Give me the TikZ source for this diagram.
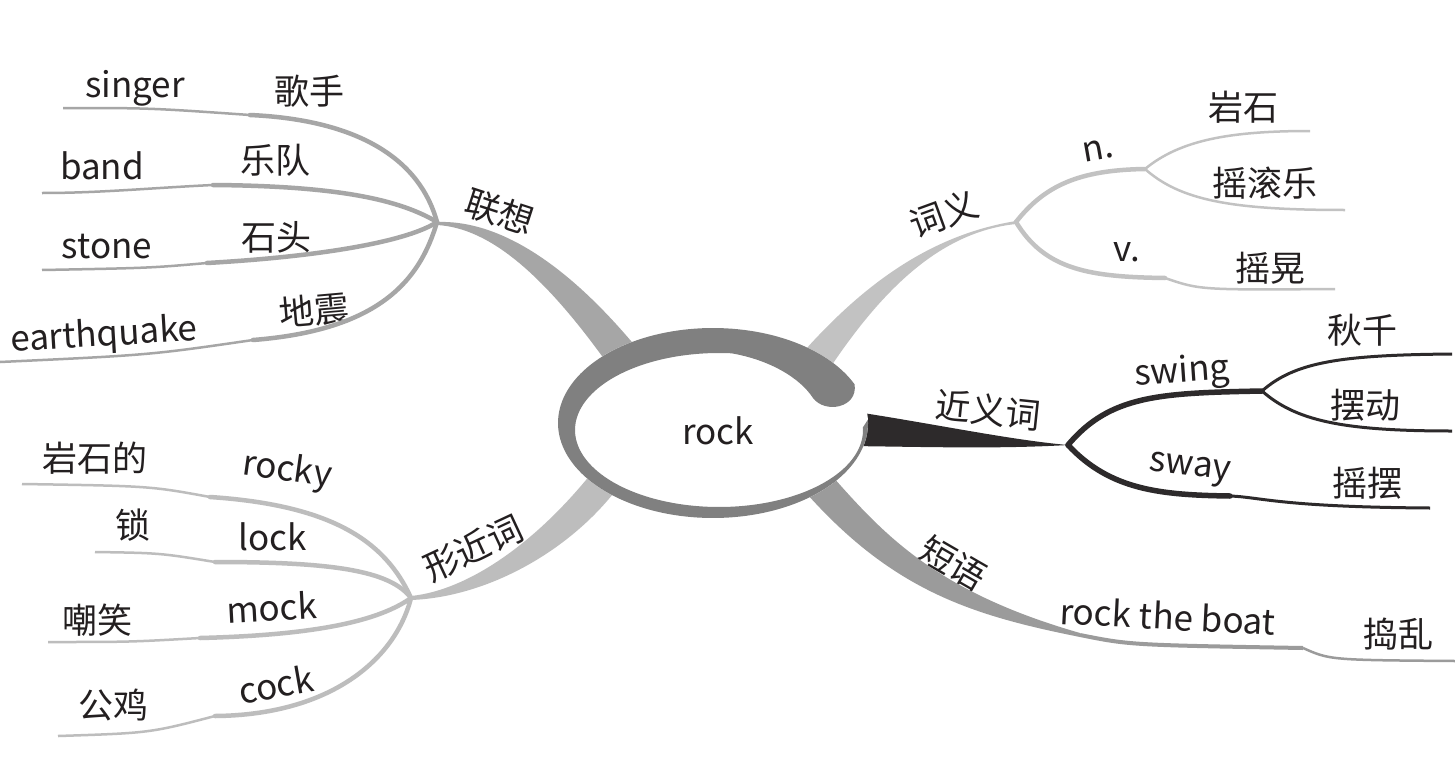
\documentclass[tikz,border=0pt]{standalone}
\usepackage{fontspec}
\setmainfont{Noto Sans CJK SC}
\definecolor{txtc}{HTML}{231F20}
\definecolor{ringc}{HTML}{808080}
\definecolor{lxc}{HTML}{A6A6A6}
\definecolor{xjc}{HTML}{BDBDBD}
\definecolor{cyc}{HTML}{C2C2C2}
\definecolor{jyc}{HTML}{2D2A2B}
\definecolor{dyc}{HTML}{9B9B9B}
\begin{document}
\begin{tikzpicture}[x=1pt,y=-1pt,
  lbl/.style={text=txtc,font=\fontsize{35}{40}\selectfont,inner sep=0pt,anchor=center},
  fat/.style={line width=4.5pt,line cap=round},
  slim/.style={line width=2.5pt,line cap=butt},
  blackfat/.style={line width=5.5pt,line cap=round,draw=jyc},
  blackslim/.style={line width=3pt,line cap=butt,draw=jyc}]
\useasboundingbox[fill=white] (0,0) rectangle (1455,760);

% ---------- junction coordinates ----------
\coordinate (jA) at (437,222);
\coordinate (jB) at (411,598);
\coordinate (jC) at (1016,222);
\coordinate (jCn) at (1145,169);
\coordinate (jD) at (1068,445);
\coordinate (jE) at (1262,391);
\coordinate (jF) at (1080,635);
\coordinate (ctr) at (718,431);

% ---------- labels ----------
\node[lbl] (singer) at (135,88) {singer};
\node[lbl] (gs) at (309,91) {歌手};
\node[lbl] (band) at (102,166) {band};
\node[lbl] (yd) at (275,160) {乐队};
\node[lbl] (stone) at (107,247) {stone};
\node[lbl] (st) at (276,237) {石头};
\node[lbl,rotate=3.5] (earthquake) at (104,336) {earthquake};
\node[lbl,rotate=5] (dz) at (314,310) {地震};
\node[lbl,rotate=-18] (lx) at (500,212) {联想};

\node[lbl] (ysd) at (95,458) {岩石的};
\node[lbl,rotate=-8] (rocky) at (287,471) {rocky};
\node[lbl] (suo) at (133,525) {锁};
\node[lbl] (lock) at (273,537) {lock};
\node[lbl] (cx) at (97,620) {嘲笑};
\node[lbl,rotate=3] (mock) at (272,607) {mock};
\node[lbl] (gj) at (113,705) {公鸡};
\node[lbl,rotate=10] (cock) at (276,684) {cock};
\node[lbl,rotate=25] (xjc) at (473,548) {形近词};

\node[lbl,rotate=20] (cy) at (944,214) {词义};
\node[lbl,rotate=10] (nn) at (1098,150) {n.};
\node[lbl] (ys) at (1243,107) {岩石};
\node[lbl] (ygl) at (1265,183) {摇滚乐};
\node[lbl] (vv) at (1127,252) {v.};
\node[lbl] (yh) at (1270,268) {摇晃};

\node[lbl,rotate=-6] (jyc) at (988,410) {近义词};
\node[lbl,rotate=4] (swing) at (1182,373) {swing};
\node[lbl] (qq) at (1362,330) {秋千};
\node[lbl] (bd) at (1365,405) {摆动};
\node[lbl,rotate=-7] (sway) at (1190,470) {sway};
\node[lbl] (yb) at (1367,483) {摇摆};

\node[lbl,rotate=-30] (dy) at (953,563) {短语};
\node[lbl,rotate=-3] (rtb) at (1168,616) {rock the boat};
\node[lbl] (dl) at (1398,634) {捣乱};

% ---------- 联想 ----------
\fill[lxc] (jA) .. controls (490,220) and (560,252) .. (645,358)
  -- (612,370) .. controls (545,275) and (490,228) .. (437,225) -- cycle;
\draw[lxc,fat] (jA) .. controls (420,160) and (360,120) .. (250,115);
\draw[lxc,slim] (250,115) .. controls (150,108) .. (63,108);
\draw[lxc,fat] (jA) .. controls (400,200) and (340,186) .. (213,185);
\draw[lxc,slim] (213,185) .. controls (150,188) and (100,193) .. (42,193);
\draw[lxc,fat] (jA) .. controls (410,240) and (330,256) .. (207,263);
\draw[lxc,slim] (207,263) .. controls (150,268) .. (42,270);
\draw[lxc,fat] (jA) .. controls (420,280) and (380,330) .. (253,340);
\draw[lxc,slim] (253,340) .. controls (150,355) .. (0,362);

% ---------- 形近词 ----------
\fill[xjc] (411,596) .. controls (470,590) and (540,540) .. (598,465)
  -- (622,482) .. controls (575,548) and (490,597) .. (411,600) -- cycle;
\draw[xjc,fat] (jB) .. controls (385,540) and (330,505) .. (210,497);
\draw[xjc,slim] (210,497) .. controls (150,486) .. (22,484);
\draw[xjc,fat] (jB) .. controls (390,570) and (330,562) .. (215,562);
\draw[xjc,slim] (215,562) .. controls (160,553) .. (95,552);
\draw[xjc,fat] (jB) .. controls (380,620) and (320,635) .. (200,638);
\draw[xjc,slim] (200,638) .. controls (130,642) .. (48,642);
\draw[xjc,fat] (jB) .. controls (395,660) and (330,715) .. (215,716);
\draw[xjc,slim] (215,716) .. controls (150,733) .. (58,736);

% ---------- 词义 ----------
\fill[cyc] (792,365) .. controls (860,285) and (930,235) .. (1016,221)
  -- (1016,224) .. controls (940,232) and (880,290) .. (822,380) -- cycle;
\draw[cyc,fat] (jC) .. controls (1045,185) and (1080,170) .. (jCn);
\draw[cyc,slim] (jCn) .. controls (1180,140) and (1230,131) .. (1310,131);
\draw[cyc,slim] (jCn) .. controls (1180,200) and (1230,210) .. (1345,210);
\draw[cyc,fat] (jC) .. controls (1045,270) and (1090,277) .. (1165,278);
\draw[cyc,slim] (1165,278) .. controls (1200,290) .. (1335,289);

% ---------- 短语 ----------
\fill[dyc] (825,468) .. controls (880,530) and (930,590) .. (1080,633)
  -- (1080,637) .. controls (970,615) and (890,590) .. (800,486) -- cycle;
\draw[dyc,line width=4pt] (jF) .. controls (1130,645) .. (1303,648);
\draw[dyc,slim] (1303,648) .. controls (1330,660) .. (1455,661);

% ---------- 近义词 ----------
\fill[jyc] (850,411) .. controls (930,423) and (1010,440) .. (jD)
  .. controls (1000,449) and (930,447) .. (850,446) -- cycle;
\draw[blackfat] (jD) .. controls (1110,395) and (1160,393) .. (jE);
\draw[blackslim] (jE) .. controls (1295,362) and (1340,355) .. (1452,354);
\draw[blackslim] (jE) .. controls (1295,420) and (1340,431) .. (1452,431);
\draw[blackfat] (jD) .. controls (1110,490) and (1160,495) .. (1230,496);
\draw[blackslim] (1230,496) .. controls (1260,497) and (1280,507) .. (1430,508);

% ---------- central ring ----------
\fill[white] (713,423) ellipse [x radius=155pt, y radius=95pt];
\fill[ringc] plot[domain=24:362,samples=150] ({713+155*cos(\x)},{423-95*sin(\x)})
  -- plot[domain=362:85,samples=150] ({719+144*cos(\x)},{430-77*sin(\x)})
  .. controls (770,360) and (800,378) .. (813,398)
  .. controls (825,414) and (858,408) .. (854.6,384.4) -- cycle;
\node[lbl] (rock) at (ctr) {rock};
\end{tikzpicture}
\end{document}
